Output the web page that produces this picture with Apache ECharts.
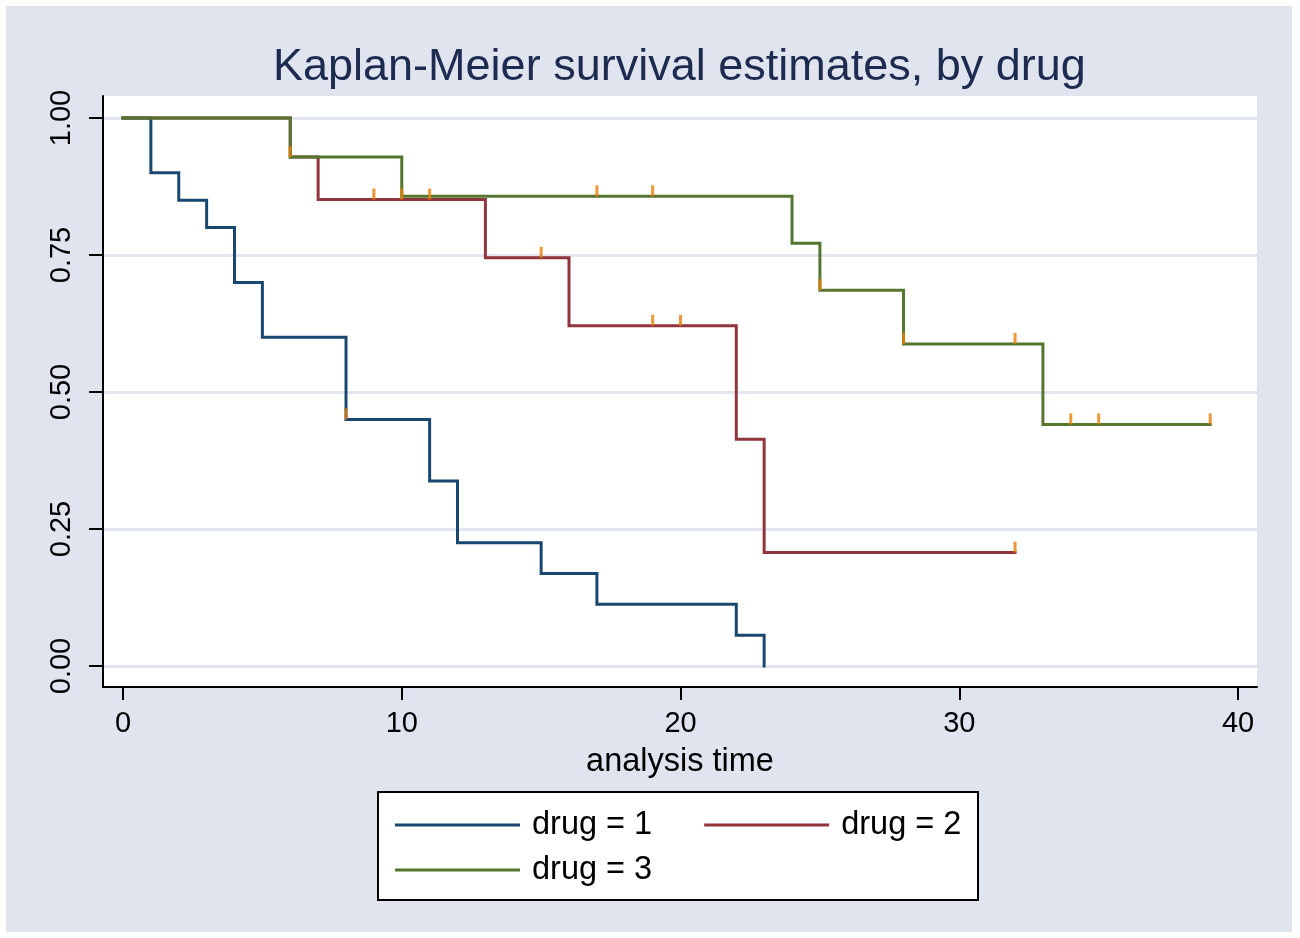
<!DOCTYPE html>
<html>
<head>
<meta charset="utf-8">
<script src="https://cdn.jsdelivr.net/npm/echarts@6/dist/echarts.min.js"></script>
<style>
  html, body { margin: 0; padding: 0; background: #ffffff; }
  #chart { position: absolute; left: 6px; top: 6px; width: 1286px; height: 926px; }
</style>
</head>
<body>
<div id="chart"></div>
<script>
// ---- data ----
const drug1Times = [0, 1, 2, 3, 4, 5, 8, 11, 12, 15, 17, 22, 23];
const drug1Surv  = [1, 0.9, 0.85, 0.8, 0.7, 0.6, 0.45, 0.3375, 0.225, 0.16875, 0.1125, 0.05625, 0];
const drug2Times = [0, 6, 7, 13, 16, 22, 23, 32];
const drug2Surv  = [1, 0.9286, 0.8512, 0.7448, 0.6207, 0.4138, 0.2069, 0.2069];
const drug3Times = [0, 6, 10, 24, 25, 28, 33, 39];
const drug3Surv  = [1, 0.9286, 0.8571, 0.7714, 0.6857, 0.5878, 0.4408, 0.4408];
const censor1Times = [8];
const censor1Surv  = [0.45];
const censor2Times = [6, 9, 10, 11, 15, 19, 20, 32];
const censor2Surv  = [0.9286, 0.8512, 0.8512, 0.8512, 0.7448, 0.6207, 0.6207, 0.2069];
const censor3Times = [17, 19, 25, 28, 32, 34, 35, 39];
const censor3Surv  = [0.8571, 0.8571, 0.6857, 0.5878, 0.5878, 0.4408, 0.4408, 0.4408];
const legendNames = ['drug = 1', 'drug = 2', 'drug = 3'];
const xTicks = [0, 10, 20, 30, 40];
const yTicks = [0, 0.25, 0.5, 0.75, 1];
const titleText = 'Kaplan-Meier survival estimates, by drug';
const xAxisTitle = 'analysis time';

const FONT = "'Liberation Sans', Arial, sans-serif";
const colors = ['#1a476f', '#90353b', '#55752f'];
const censorColor = '#e87e04';

function zip(a, b) { return a.map((v, i) => [v, b[i]]); }

const kmSeries = [
  zip(drug1Times, drug1Surv),
  zip(drug2Times, drug2Surv),
  zip(drug3Times, drug3Surv)
].map((d, i) => ({
  name: legendNames[i],
  type: 'line',
  step: 'end',
  data: d,
  showSymbol: false,
  symbol: 'none',
  lineStyle: { color: colors[i], width: 3, cap: 'square', join: 'miter' },
  itemStyle: { color: colors[i] },
  z: 3,
  animation: false
}));

const censorSeries = [
  zip(censor1Times, censor1Surv),
  zip(censor2Times, censor2Surv),
  zip(censor3Times, censor3Surv)
].map((d) => ({
  type: 'scatter',
  data: d,
  symbol: 'rect',
  symbolSize: [3, 11],
  symbolOffset: [0, '-50%'],
  itemStyle: { color: censorColor },
  z: 5,
  silent: true,
  animation: false
}));

const legendText = { fontFamily: FONT, fontSize: 32.5, lineHeight: 40, color: '#000', padding: [0, 0, 0, 7] };

const chart = echarts.init(document.getElementById('chart'), null, { renderer: 'canvas' });
chart.setOption({
  backgroundColor: '#dfe4ef',
  animation: false,
  title: {
    text: titleText,
    left: 262,
    top: 34,
    textStyle: { fontFamily: FONT, fontSize: 45, fontWeight: 'normal', color: '#1e2b50' }
  },
  graphic: [{
    type: 'rect',
    shape: { x: 372, y: 786, width: 600, height: 108 },
    style: { fill: '#ffffff', stroke: '#000000', lineWidth: 2 },
    z: 1
  }],
  legend: [{
    data: legendNames.slice(0, 2),
    left: 384,
    top: 794,
    orient: 'horizontal',
    icon: 'rect',
    itemWidth: 125,
    itemHeight: 3,
    itemGap: 52,
    z: 10,
    selectedMode: false,
    textStyle: legendText
  }, {
    data: legendNames.slice(2),
    left: 384,
    top: 839,
    orient: 'horizontal',
    icon: 'rect',
    itemWidth: 125,
    itemHeight: 3,
    itemGap: 52,
    z: 10,
    selectedMode: false,
    textStyle: legendText
  }],
  grid: {
    left: 97, right: 35, top: 90, bottom: 245,
    show: true, backgroundColor: '#ffffff', borderWidth: 0,
    containLabel: false
  },
  xAxis: {
    type: 'value',
    min: -0.7175,
    max: 40.68,
    axisLine: { show: true, onZero: false, lineStyle: { color: '#000', width: 2 } },
    axisTick: { show: true, customValues: xTicks, length: 13, lineStyle: { color: '#000', width: 2 } },
    axisLabel: { customValues: xTicks, margin: 22, fontFamily: FONT, fontSize: 29, color: '#000' },
    splitLine: { show: false },
    name: xAxisTitle,
    nameLocation: 'middle',
    nameGap: 59,
    nameTextStyle: { fontFamily: FONT, fontSize: 32.5, color: '#000' }
  },
  yAxis: {
    type: 'value',
    min: -0.0383,
    max: 1.0401,
    axisLine: { show: true, onZero: false, lineStyle: { color: '#000', width: 2 } },
    axisTick: { show: true, customValues: yTicks, length: 14, lineStyle: { color: '#000', width: 2 } },
    axisLabel: {
      customValues: yTicks, rotate: 90, margin: 27,
      fontFamily: FONT, fontSize: 29, color: '#000',
      formatter: (v) => v.toFixed(2)
    },
    splitLine: { show: true, lineStyle: { color: '#e2e6f0', width: 3 } }
  },
  series: kmSeries.concat(censorSeries)
});
</script>
</body>
</html>
